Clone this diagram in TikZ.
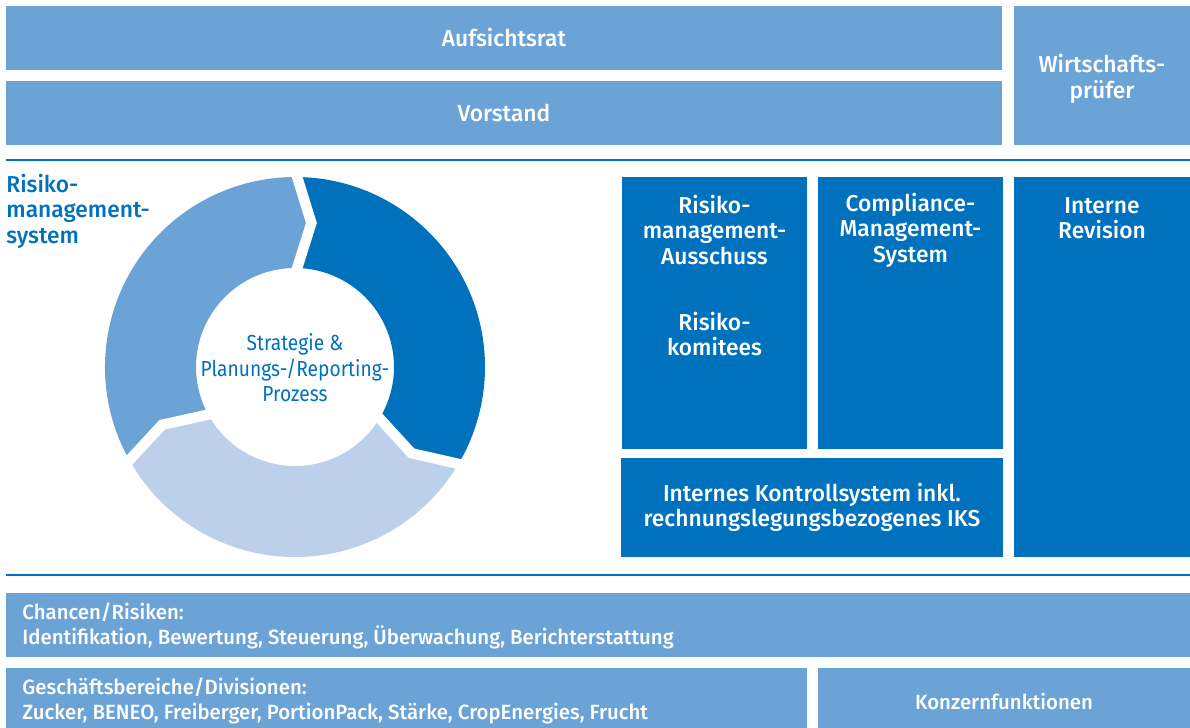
\documentclass[tikz,border=0pt]{standalone}
\usepackage{fontspec}
\setmainfont{Fira Sans}[BoldFont={Fira Sans Medium},
  UprightFeatures={FakeStretch=0.88},BoldFeatures={FakeStretch=0.99}]
\usetikzlibrary{positioning}

\definecolor{midblue}{RGB}{108,163,214}
\definecolor{darkblue}{RGB}{0,113,188}
\definecolor{lightblue}{RGB}{188,208,236}

\tikzset{
  box/.style={fill=midblue, text=white, inner sep=0pt, align=center,
    font=\bfseries\fontsize{11.5}{12.75}\selectfont},
  darkbox/.style={box, fill=darkblue},
  boxtext/.style={text=white, inner sep=0pt, align=center,
    font=\bfseries\fontsize{11.5}{12.75}\selectfont},
  smalltext/.style={text=white, inner sep=0pt, align=left,
    font=\bfseries\fontsize{10.3}{12.5}\selectfont},
  rule/.style={draw=darkblue, line width=1pt},
  gapline/.style={draw=white, line width=5.2pt, line join=miter}
}

\begin{document}
\begin{tikzpicture}[x=0.5pt,y=-0.5pt]
\useasboundingbox (0,0) rectangle (1190,728);

% Aufsicht und Leitung
\node[box, minimum width=498pt, minimum height=32pt] (aufsicht) at (504,38) {Aufsichtsrat};
\node[box, minimum width=498pt, minimum height=32pt] (vorstand) at (504,113) {Vorstand};
\node[box, minimum width=88pt, minimum height=69.5pt] (pruefer) at (1102,75.5) {};
\node[boxtext] (pruefertext) at (1102,79) {Wirtschafts-\\prüfer};
\draw[rule] (6,160) -- (1190,160);

% Kreislauf
\node[text=darkblue, inner sep=0pt, align=left, anchor=west,
  font=\bfseries\fontsize{11.5}{12.75}\selectfont] (rmslabel) at (6,211) {Risiko-\\management-\\system};
\begin{scope}[shift={(295,367)}, y=0.5pt]
  \foreach \a/\col in {210/midblue, 90/darkblue, -30/lightblue}{
    \pgfmathsetmacro{\b}{\a-120}
    \fill[\col] (\a:190) arc[start angle=\a, end angle=\b, radius=190]
      -- ({\b-6.5}:145) -- (\b:99) arc[start angle=\b, end angle=\a, radius=99]
      -- ({\a-6.5}:145) -- cycle;
  }
  \foreach \a in {90,-30,210}
    \draw[gapline] (\a:197) -- ({\a-6.5}:145) -- (\a:92);
  \node[text=darkblue, inner sep=0pt, align=center,
    font=\fontsize{10.9}{12.75}\selectfont] (prozess) at (0,-1) {Strategie \&\\Planungs-/Reporting-\\Prozess};
\end{scope}

% Ausschuesse und Systeme
\node[darkbox, minimum width=92.5pt, minimum height=136pt] (rma) at (714.5,313) {};
\node[boxtext] (rmatext) at (714.5,230) {Risiko-\\management-\\Ausschuss};
\node[boxtext] (komitees) at (714.5,334) {Risiko-\\komitees};
\node[darkbox, minimum width=92.5pt, minimum height=136pt] (cms) at (910.5,313) {};
\node[boxtext] (cmstext) at (910.5,230) {Compliance-\\Management-\\System};
\node[darkbox, minimum width=88pt, minimum height=190pt] (revision) at (1102,367) {};
\node[boxtext] (revisiontext) at (1102,218) {Interne\\Revision};
\node[darkbox, minimum width=191pt, minimum height=49.5pt] (iks) at (812,507.5)
  {Internes Kontrollsystem inkl.\\rechnungslegungsbezogenes IKS};
\draw[rule] (6,574.5) -- (1190,574.5);

% Chancen/Risiken und Bereiche
\node[box, minimum width=592pt, minimum height=32pt] (chancen) at (598,625) {};
\node[smalltext, anchor=west] (chancentext) at (22,626) {Chancen/Risiken:\\Identifikation, Bewertung, Steuerung, Überwachung, Berichterstattung};
\node[box, minimum width=400.5pt, minimum height=30pt] (bereiche) at (406.5,698) {};
\node[smalltext, anchor=west] (bereichetext) at (22,701) {Geschäftsbereiche/Divisionen:\\Zucker, BENEO, Freiberger, PortionPack, Stärke, CropEnergies, Frucht};
\node[box, minimum width=186pt, minimum height=30pt] (konzern) at (1004,698) {};
\node[smalltext, align=center] (konzerntext) at (1004,701) {Konzernfunktionen};
\end{tikzpicture}
\end{document}
